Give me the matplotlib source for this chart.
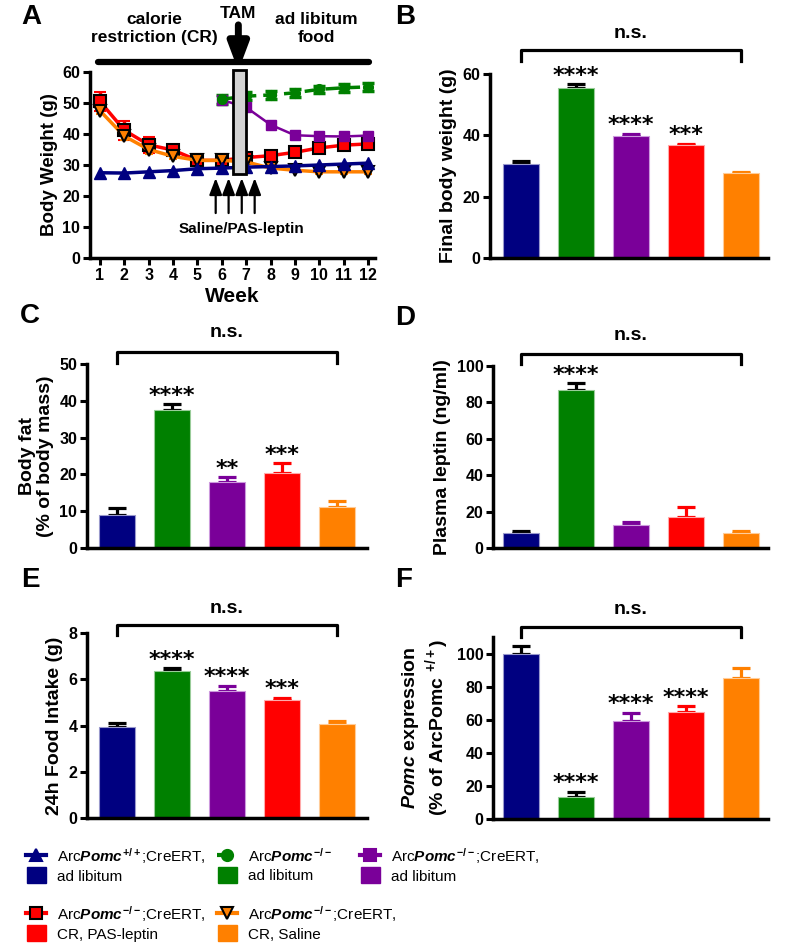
import numpy as np
import matplotlib
matplotlib.use("Agg")
import matplotlib.pyplot as plt
from matplotlib.lines import Line2D
from matplotlib.patches import Rectangle
import matplotlib.transforms as mtransforms

plt.rcParams['font.family'] = ['Liberation Sans', 'DejaVu Sans']
plt.rcParams['font.weight'] = 'bold'
plt.rcParams['mathtext.fontset'] = 'custom'
plt.rcParams['mathtext.rm'] = 'Liberation Sans:bold'
plt.rcParams['mathtext.bf'] = 'Liberation Sans:bold'
plt.rcParams['mathtext.it'] = 'Liberation Sans:italic:bold'

# ---- data ----
colors = ['#000080', '#008000', '#7a0099', '#ff0000', '#ff8000']
err_colors = ['#000000', '#000000', '#7a0099', '#ff0000', '#ff8000']

weeks = np.arange(1, 13)
bw_wt = [27.5, 27.4, 27.8, 28.2, 28.8, 29.0, 29.3, 29.5, 29.7, 30.0, 30.3, 30.6]
weeks_ko = np.arange(6, 13)
bw_ko = [51.2, 52.2, 52.6, 53.3, 54.4, 54.9, 55.2]
bw_ko_err = [1.4, 1.3, 1.2, 1.3, 1.2, 1.3, 1.3]
bw_cre = [51.0, 48.6, 43.0, 39.6, 39.3, 39.2, 39.5]
bw_lep = [50.5, 41.2, 36.5, 34.8, 31.5, 31.5, 32.4, 33.0, 34.1, 35.5, 36.4, 36.8]
bw_lep_err = [3.2, 3.0, 2.6, 1.4, 0.6, 0.6, 0.6, 0.6, 0.6, 0.6, 0.6, 0.6]
bw_sal = [47.5, 39.3, 35.0, 32.8, 31.5, 31.5, 31.0, 29.0, 28.3, 27.8, 27.8, 27.8]
bw_sal_err = [1.0, 1.2, 1.5, 1.0, 0.6, 0.6, 0.6, 0.6, 0.6, 0.6, 0.6, 0.6]
inj_weeks = [5.75, 6.28, 6.82, 7.35]

final_bw = [30.5, 55.3, 39.7, 36.7, 27.7]
final_bw_err = [1.0, 1.3, 0.8, 0.6, 0.5]
final_bw_stars = ['', '****', '****', '***', '']

body_fat = [9.0, 37.5, 18.0, 20.5, 11.2]
body_fat_err = [1.8, 1.5, 1.2, 2.5, 1.6]
body_fat_stars = ['', '****', '**', '***', '']

leptin = [8.0, 87.0, 12.8, 17.2, 8.0]
leptin_err = [1.4, 3.5, 1.5, 5.3, 1.5]
leptin_stars = ['', '****', '', '', '']

food = [3.95, 6.35, 5.5, 5.1, 4.08]
food_err = [0.15, 0.12, 0.22, 0.1, 0.1]
food_stars = ['', '****', '****', '***', '']

pomc = [100.0, 13.0, 59.5, 64.5, 85.5]
pomc_err = [4.5, 3.5, 4.5, 3.5, 5.5]
pomc_stars = ['', '****', '****', '****', '']

W, H = 787, 949
fig = plt.figure(figsize=(W / 100, H / 100), dpi=100)


def add_ax(l, t, r, b):
    return fig.add_axes([l / W, 1 - b / H, (r - l) / W, (b - t) / H])


def style(ax):
    for s in ['top', 'right']:
        ax.spines[s].set_visible(False)
    for s in ['left', 'bottom']:
        ax.spines[s].set_linewidth(2.5)
    ax.tick_params(width=2.2, length=5, labelsize=11.5, pad=2)
    for lab in ax.get_xticklabels() + ax.get_yticklabels():
        lab.set_fontweight('bold')


# ---- panel A ----
ax = add_ax(90, 72, 375, 258)
ax.set_xlim(0.59, 12.29)
ax.set_ylim(0, 60)
lw = 2.5
ax.plot(weeks, bw_wt, color=colors[0], lw=lw, marker='^', ms=8, zorder=5)
ax.errorbar(weeks_ko, bw_ko, yerr=bw_ko_err, color=colors[1], lw=lw, ls=(0, (4, 2)), marker='o',
            ms=7, capsize=4.5, elinewidth=2.5, capthick=2.5, zorder=4)
ax.plot(weeks_ko, bw_cre, color=colors[2], lw=1.8, marker='s', ms=7, zorder=4)
ax.errorbar(weeks, bw_lep, yerr=bw_lep_err, color=colors[3], lw=lw, marker='s', ms=8,
            mec='black', mew=1.5, capsize=4, zorder=3)
ax.errorbar(weeks, bw_sal, yerr=bw_sal_err, color=colors[4], lw=lw, marker='v', ms=9,
            mec='black', mew=1.5, capsize=3, zorder=3)
ax.add_patch(Rectangle((6.45, 27.0), 0.53, 33.6, facecolor='#d3d3d3', edgecolor='black',
                       lw=2, zorder=6, clip_on=False))
for w in inj_weeks:
    ax.annotate('', xy=(w, 25.8), xytext=(w, 14.5),
                arrowprops=dict(arrowstyle='-|>,head_width=0.38,head_length=1.0', color='black',
                                lw=1.6, shrinkA=0, shrinkB=0))
ax.text(6.8, 9.4, 'Saline/PAS-leptin', ha='center', va='center', fontsize=11, fontweight='bold')
ax.plot([0.9, 12.05], [63.2, 63.2], color='black', lw=4.5, clip_on=False, solid_capstyle='round')
ax.annotate('', xy=(6.68, 60.4), xytext=(6.68, 75.2), annotation_clip=False,
            arrowprops=dict(arrowstyle='-|>,head_width=0.6,head_length=1.6', color='black',
                            lw=5, shrinkA=0, shrinkB=0))
ax.text(6.68, 79.0, 'TAM', ha='center', va='center', fontsize=12.5, fontweight='bold')
ax.text(3.25, 74.0, 'calorie\nrestriction (CR)', ha='center', va='center', fontsize=12.5,
        fontweight='bold', linespacing=1.2)
ax.text(9.9, 74.0, 'ad libitum\nfood', ha='center', va='center', fontsize=12.5,
        fontweight='bold', linespacing=1.2)
ax.set_xticks(weeks)
ax.set_yticks(np.arange(0, 61, 10))
ax.set_xlabel('Week', fontsize=15, fontweight='bold', labelpad=3)
ax.set_ylabel('Body Weight (g)', fontsize=13.5, fontweight='bold', labelpad=3)
style(ax)


def bar_panel(px, c0, vals, errs, stars, ylim, yticks, ylabel, brk, legy, nsy):
    l, t, r, b = px
    s = 55.0
    ax = add_ax(l, t, r, b)
    x = np.arange(len(vals))
    ax.set_xlim(-(c0 - l) / s, (r - c0) / s)
    ax.set_ylim(*ylim)
    ax.bar(x, vals, width=0.66, color=colors, edgecolor=['#9999cc', '#99cc99', '#cc99dd', '#ffaaaa', '#ffcc99'],
           lw=0.8, zorder=2)
    for i in range(len(vals)):
        ax.errorbar(x[i], vals[i], yerr=[[0], [errs[i]]], color=err_colors[i], lw=2.3,
                    capsize=6.5, capthick=2.3, zorder=1)
        if stars[i]:
            ax.annotate(stars[i], (x[i], vals[i] + errs[i]), xytext=(0, -1),
                        textcoords='offset points', ha='center', va='bottom',
                        fontsize=16, fontweight='bold', family='DejaVu Sans')
    tr = mtransforms.blended_transform_factory(ax.transData, ax.transAxes)
    ax.plot([x[0], x[0], x[-1], x[-1]], [legy, brk, brk, legy], color='black', lw=2.3,
            transform=tr, clip_on=False)
    ax.text((x[0] + x[-1]) / 2, nsy, 'n.s.', transform=tr, ha='center', va='center',
            fontsize=14, fontweight='bold')
    ax.set_xticks([])
    ax.set_yticks(yticks)
    ax.set_ylabel(ylabel, fontsize=14, fontweight='bold', labelpad=4, linespacing=1.1)
    style(ax)
    return ax


bar_panel((490, 74, 768, 258), 521, final_bw, final_bw_err, final_bw_stars, (0, 60),
          [0, 20, 40, 60], 'Final body weight (g)', 1.13, 1.07, 1.22)
bar_panel((87, 364, 367, 548), 117, body_fat, body_fat_err, body_fat_stars, (0, 50),
          np.arange(0, 51, 10), 'Body fat\n(% of body mass)', 1.065, 1.005, 1.17)
bar_panel((493, 366, 768, 548), 521, leptin, leptin_err, leptin_stars, (0, 100),
          np.arange(0, 101, 20), 'Plasma leptin (ng/ml)', 1.065, 1.01, 1.17)
bar_panel((87, 633, 367, 818), 117, food, food_err, food_stars, (0, 8),
          [0, 2, 4, 6, 8], '24h Food Intake (g)', 1.043, 0.99, 1.135)
bar_panel((493, 637, 768, 819), 521, pomc, pomc_err, pomc_stars, (0, 110),
          np.arange(0, 101, 20), '$\\it{Pomc}$ expression\n(% of ArcPomc $^{+/+}$)',
          1.055, 1.0, 1.15)

# ---- overlay for panel letters and legend ----
ov = fig.add_axes([0, 0, 1, 1], zorder=10)
ov.set_xlim(0, W)
ov.set_ylim(H, 0)
ov.axis('off')
ov.patch.set_alpha(0)
for lab, (lx, ly) in zip('ABCDEF', [(31, 17), (405, 17), (30, 316), (405, 318), (30, 580), (404, 580)]):
    ov.text(lx, ly, lab, ha='center', va='center', fontsize=20, fontweight='bold')

leg_labels = ['Arc$\\it{Pomc}^{+/+}$;CreERT,\nad libitum',
              'Arc$\\it{Pomc}^{-/-}$\nad libitum',
              'Arc$\\it{Pomc}^{-/-}$;CreERT,\nad libitum',
              'Arc$\\it{Pomc}^{-/-}$;CreERT,\nCR, PAS-leptin',
              'Arc$\\it{Pomc}^{-/-}$;CreERT,\nCR, Saline']
leg_markers = ['^', 'o', 's', 's', 'v']
leg_ls = ['-', (0, (3, 2)), '-', '-', '-']
leg_mec = [colors[0], colors[1], colors[2], 'black', 'black']
leg_pos = [(26, 855), (217, 855), (360, 855), (26, 913), (217, 913)]
for i, (lx, ly) in enumerate(leg_pos):
    ov.add_line(Line2D([lx, lx + 20], [ly, ly], color=colors[i], lw=3, ls=leg_ls[i]))
    ov.add_line(Line2D([lx + 10], [ly], marker=leg_markers[i], ms=8, color=colors[i],
                       mec=leg_mec[i], mew=1.5))
    ov.add_patch(Rectangle((lx + 1, ly + 12), 19, 16, color=colors[i]))
    ov.text(lx + 31, ly + 10, leg_labels[i], ha='left', va='center', fontsize=11,
            fontweight='normal', linespacing=1.35)

fig.savefig('out.png', dpi=100)
